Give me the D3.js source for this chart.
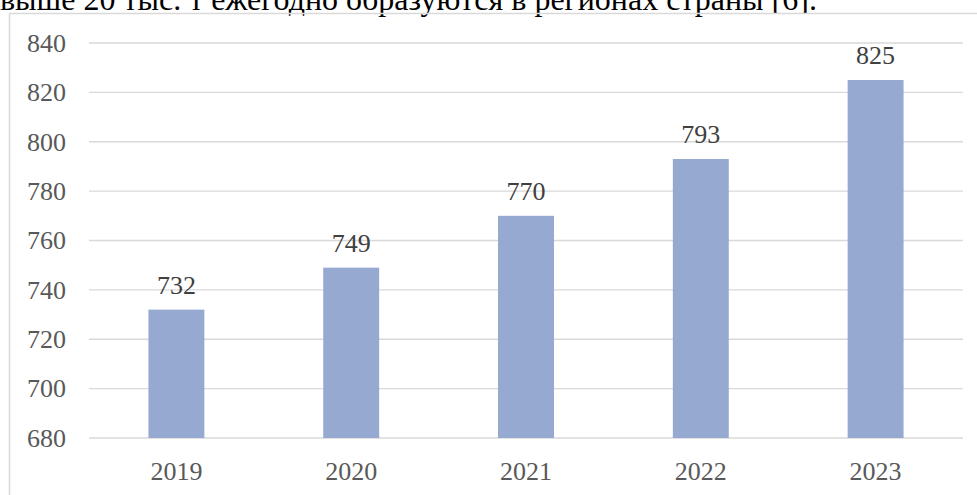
<!DOCTYPE html>
<html>
<head>
<meta charset="utf-8">
<script src="https://cdn.jsdelivr.net/npm/d3@7"></script>
<style>
  body { margin: 0; background: #fff; }
</style>
</head>
<body>
<svg id="chart" width="977" height="495"></svg>
<script>
var years = ['2019', '2020', '2021', '2022', '2023']
var values = [732, 749, 770, 793, 825]
var yTicks = [680, 700, 720, 740, 760, 780, 800, 820, 840]
var caption = 'выше 20 тыс. т ежегодно образуются в регионах страны [6].'

var serif = 'Liberation Serif'
var svg = d3.select('#chart')

// text line of the page above the chart, cut at the top
var cap = svg.append('text')
  .attr('x', 0).attr('y', 10)
  .attr('fill', '#000')
  .attr('font-family', serif)
  .attr('font-size', 28)
  .text(caption)
var w = cap.node().getComputedTextLength()
cap.attr('font-size', 28 * 817 / w)

// chart frame
svg.append('rect')
  .attr('x', 9.5).attr('y', 13.5)
  .attr('width', 1000).attr('height', 600)
  .attr('fill', 'none')
  .attr('stroke', '#d9d9d9')
  .attr('stroke-width', 1.5)

var margin = {left: 89, right: 14, top: 43, bottom: 57}
var width = 977 - margin.left - margin.right
var height = 495 - margin.top - margin.bottom

var g = svg.append('g').attr('transform', 'translate(' + margin.left + ',' + margin.top + ')')

var x = d3.scaleBand().domain(years).range([0, width]).paddingInner(0.68).paddingOuter(0.34)
var y = d3.scaleLinear().domain([680, 840]).range([height, 0])

// gridlines
g.selectAll('line.grid').data(yTicks).join('line')
  .attr('class', 'grid')
  .attr('x1', 0).attr('x2', width)
  .attr('y1', d => y(d)).attr('y2', d => y(d))
  .attr('stroke', '#d9d9d9').attr('stroke-width', 1.3)

// y axis labels
var yAxis = d3.axisLeft(y).tickValues(yTicks).tickSize(0).tickPadding(23)
g.append('g').call(yAxis)
  .attr('font-family', serif).attr('font-size', 26)
  .call(s => s.select('.domain').remove())
  .selectAll('text')
  .attr('fill', '#595959')

// bars
g.selectAll('rect.bar').data(values).join('rect')
  .attr('class', 'bar')
  .attr('x', (d, i) => x(years[i]))
  .attr('width', x.bandwidth())
  .attr('y', d => y(d))
  .attr('height', d => height - y(d))
  .attr('fill', '#95a9d1')

// value labels
g.selectAll('text.val').data(values).join('text')
  .attr('class', 'val')
  .attr('x', (d, i) => x(years[i]) + x.bandwidth() / 2)
  .attr('y', d => y(d) - 16)
  .attr('text-anchor', 'middle')
  .attr('fill', '#404040')
  .attr('font-family', serif)
  .attr('font-size', 26)
  .text(d => d)

// x axis labels
var xAxis = d3.axisBottom(x).tickSize(0).tickPadding(24)
g.append('g').attr('transform', 'translate(0,' + height + ')').call(xAxis)
  .attr('font-family', serif).attr('font-size', 26)
  .call(s => s.select('.domain').remove())
  .selectAll('text')
  .attr('fill', '#595959')
</script>
</body>
</html>
